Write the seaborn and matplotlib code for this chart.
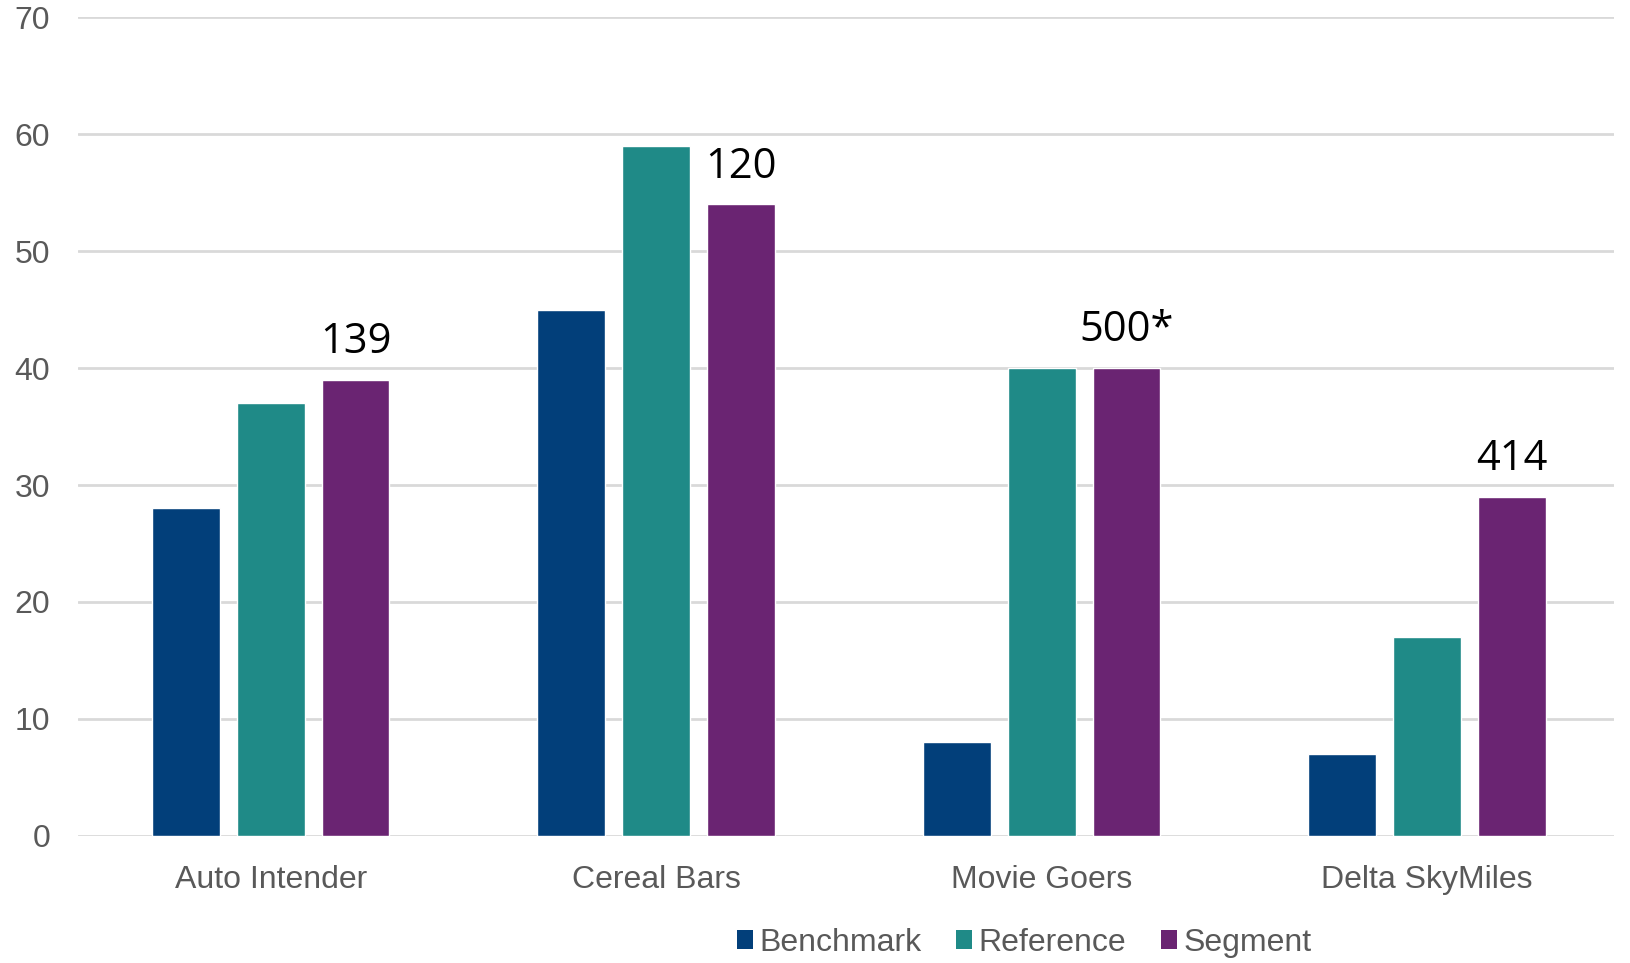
import matplotlib
matplotlib.use("Agg")
import matplotlib.pyplot as plt
import seaborn as sns
import pandas as pd
from matplotlib.patches import Patch

categories = ["Auto Intender", "Cereal Bars", "Movie Goers", "Delta SkyMiles"]
series_names = ["Benchmark", "Reference", "Segment"]
benchmark = [28, 45, 8, 7]
reference = [37, 59, 40, 17]
segment = [39, 54, 40, 29]
segment_labels = ["139", "120", "500*", "414"]
y_ticks = [0, 10, 20, 30, 40, 50, 60, 70]
colors = ["#023F7A", "#1F8A87", "#6A2472"]

rows = []
for s, vals in zip(series_names, [benchmark, reference, segment]):
    for c, v in zip(categories, vals):
        rows.append({"category": c, "series": s, "value": v})
df = pd.DataFrame(rows)

sns.set_theme(style="white")
plt.rcParams['font.family'] = ['Liberation Sans', 'DejaVu Sans']

fig = plt.figure(figsize=(16.31, 9.63), dpi=100)
ax = fig.add_axes([0.0478, 0.1319, 0.9418, 0.8504])

sns.barplot(data=df, x="category", y="value", hue="series", order=categories,
            hue_order=series_names, palette=colors, width=0.66, gap=0.2,
            saturation=1, ax=ax, legend=False, errorbar=None)

ax.set_ylim(0, 70)
ax.set_xlim(-0.5, 3.485)
ax.set_yticks(y_ticks)
ax.set_yticklabels([str(t) for t in y_ticks])
ax.yaxis.grid(True, color="#D9D9D9", linewidth=2)
ax.set_axisbelow(True)
for sp in ax.spines.values():
    sp.set_visible(False)
ax.set_xlabel("")
ax.set_ylabel("")
ax.tick_params(axis="y", length=0, pad=20, labelsize=23, labelcolor="#595959")
ax.tick_params(axis="x", length=0, pad=21, labelsize=23, labelcolor="#595959")

seg_container = ax.containers[2]
ax.bar_label(seg_container, labels=segment_labels, padding=12,
             fontsize=30, color="black", family=["Open Sans", "DejaVu Sans"])

handles = [Patch(facecolor=c, edgecolor="none") for c in colors]
fig.legend(handles, series_names, loc="center", bbox_to_anchor=(0.628, 0.021),
           ncol=3, frameon=False, fontsize=23, labelcolor="#595959",
           handlelength=0.5, handleheight=0.5, handletextpad=0.2,
           columnspacing=1.1)

fig.savefig("out.png", dpi=100)
